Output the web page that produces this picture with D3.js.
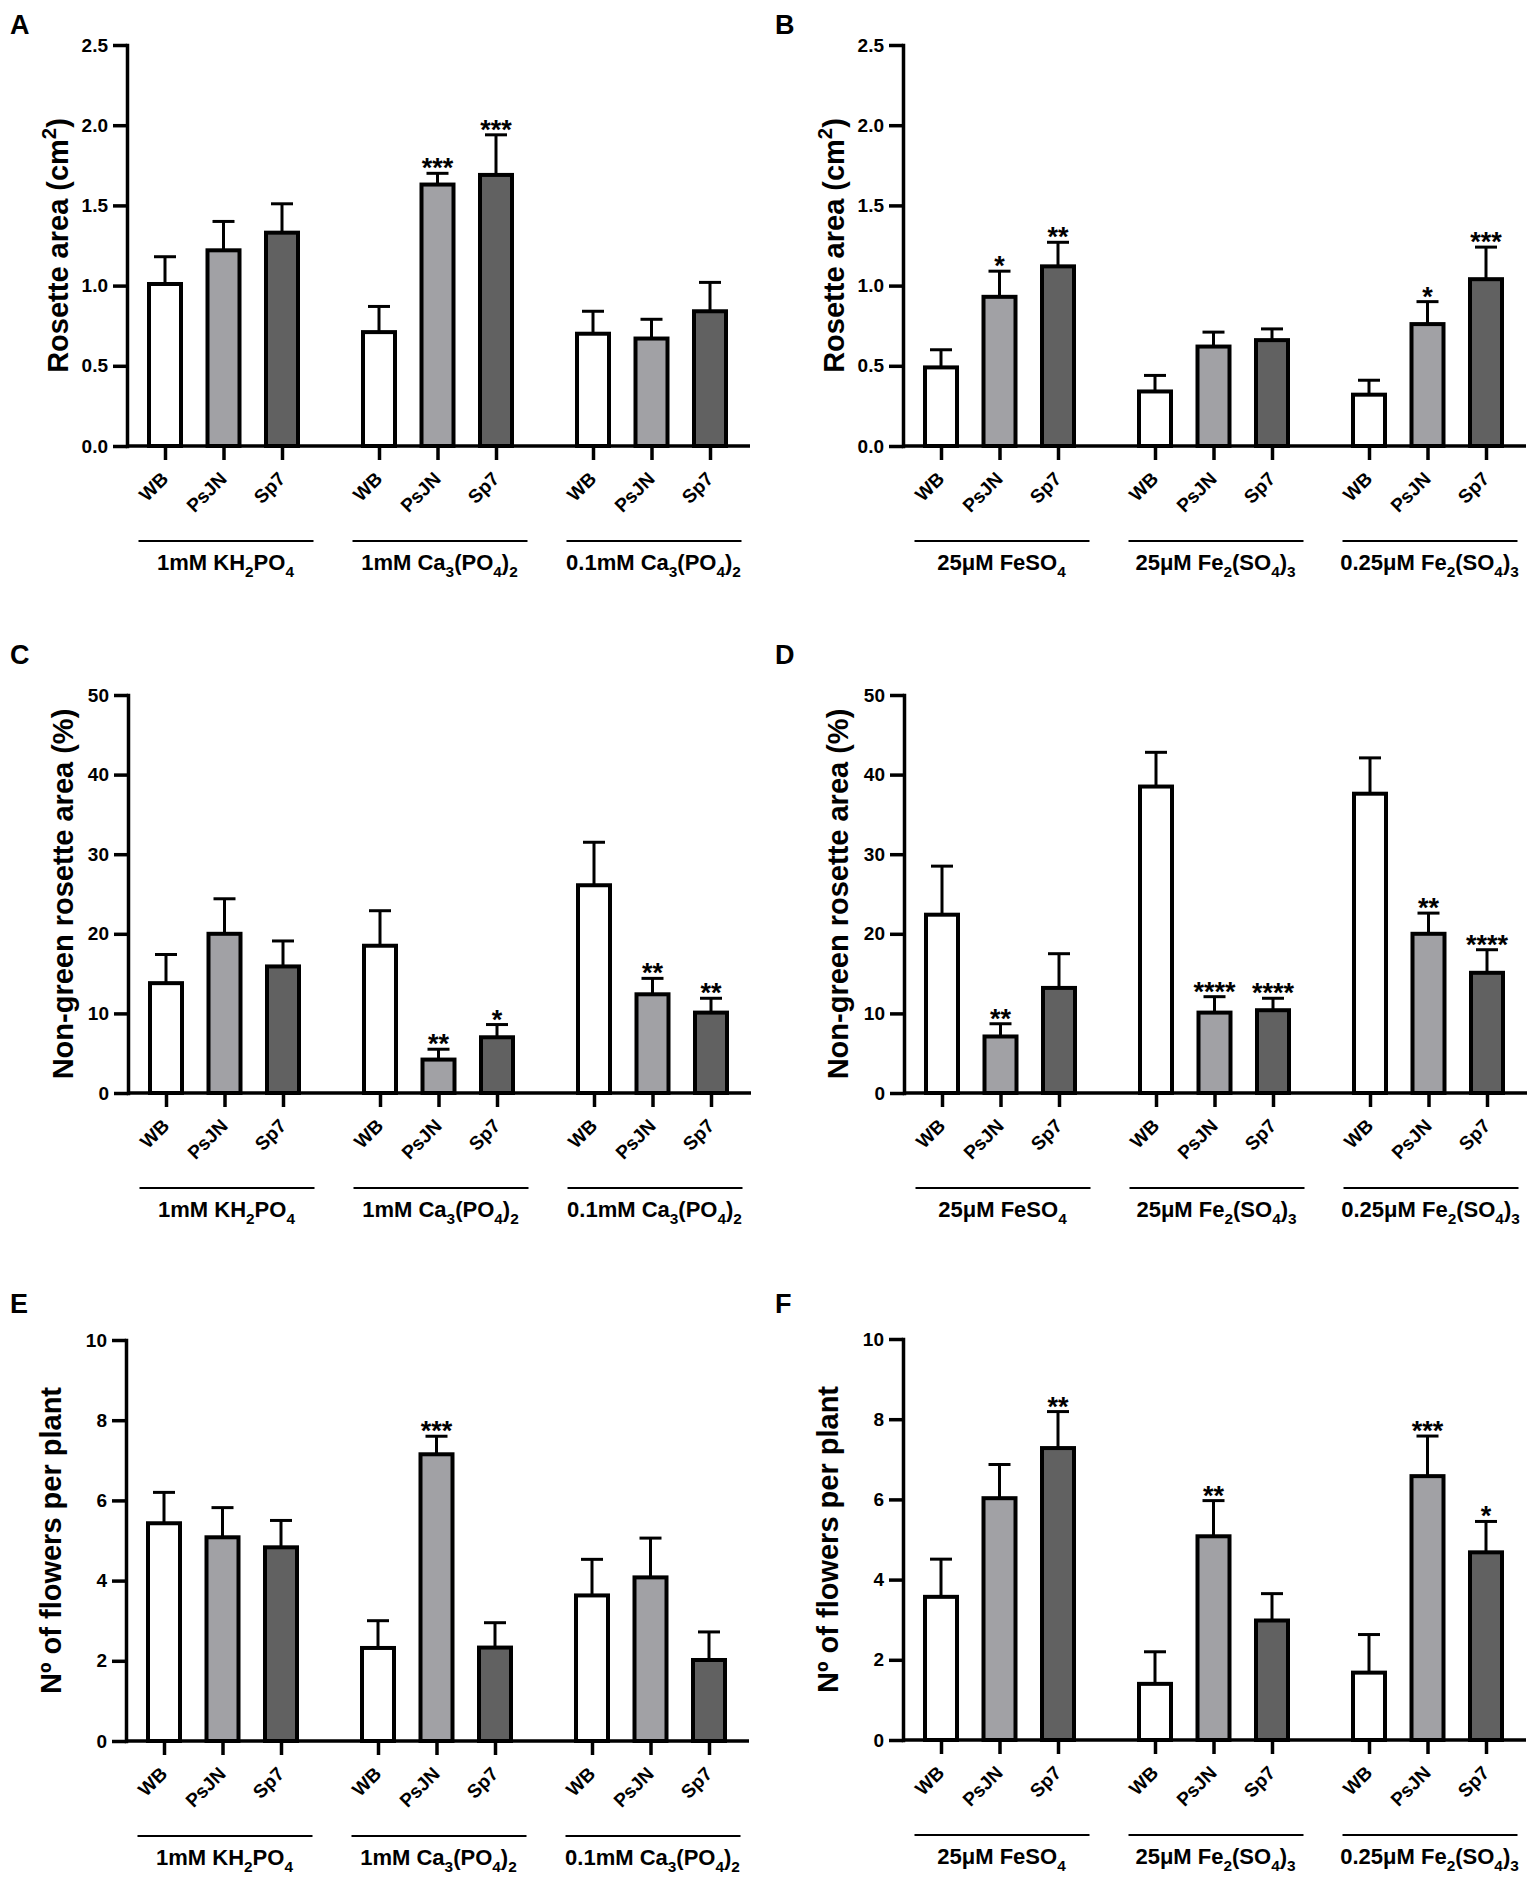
<!DOCTYPE html>
<html lang="en">
<head>
<meta charset="utf-8">
<title>Rosette area, non-green area and flowers</title>
<style>
  body { margin: 0; background: #fff; }
  svg text { font-family: "Liberation Sans", Arial, Helvetica, sans-serif; font-weight: bold; fill: #000; }
</style>
</head>
<body>
<div id="chart"></div>
<script src="https://d3js.org/d3.v7.min.js"></script>
<script>
// categories
var strains = ["WB", "PsJN", "Sp7"];
var phosphateGroups = ["1mM KH_2PO_4", "1mM Ca_3(PO_4)_2", "0.1mM Ca_3(PO_4)_2"];
var ironGroups = ["25μM FeSO_4", "25μM Fe_2(SO_4)_3", "0.25μM Fe_2(SO_4)_3"];

// y tick labels
var areaTicks = [0, 0.5, 1, 1.5, 2, 2.5];
var percentTicks = [0, 10, 20, 30, 40, 50];
var flowerTicks = [0, 2, 4, 6, 8, 10];

// A - rosette area, phosphate
var areaPhosMean = [1.01, 1.22, 1.33, 0.71, 1.63, 1.69, 0.70, 0.67, 0.84];
var areaPhosErr = [0.17, 0.18, 0.18, 0.16, 0.07, 0.25, 0.14, 0.12, 0.18];
var areaPhosStars = ["", "", "", "", "***", "***", "", "", ""];

// B - rosette area, iron
var areaIronMean = [0.49, 0.93, 1.12, 0.34, 0.62, 0.66, 0.32, 0.76, 1.04];
var areaIronErr = [0.11, 0.16, 0.15, 0.10, 0.09, 0.07, 0.09, 0.14, 0.20];
var areaIronStars = ["", "*", "**", "", "", "", "", "*", "***"];

// C - non-green area, phosphate
var nonGreenPhosMean = [13.8, 20.0, 15.9, 18.5, 4.2, 7.0, 26.1, 12.4, 10.1];
var nonGreenPhosErr = [3.6, 4.4, 3.2, 4.4, 1.3, 1.6, 5.4, 2.0, 1.8];
var nonGreenPhosStars = ["", "", "", "", "**", "*", "", "**", "**"];

// D - non-green area, iron
var nonGreenIronMean = [22.4, 7.1, 13.2, 38.5, 10.1, 10.4, 37.6, 20.0, 15.1];
var nonGreenIronErr = [6.1, 1.6, 4.3, 4.3, 2.0, 1.5, 4.5, 2.6, 2.9];
var nonGreenIronStars = ["", "**", "", "", "****", "****", "", "**", "****"];

// E - flowers, phosphate
var flowersPhosMean = [5.43, 5.08, 4.83, 2.32, 7.15, 2.33, 3.63, 4.08, 2.02];
var flowersPhosErr = [0.77, 0.74, 0.67, 0.68, 0.45, 0.62, 0.90, 0.98, 0.70];
var flowersPhosStars = ["", "", "", "", "***", "", "", "", ""];

// F - flowers, iron
var flowersIronMean = [3.57, 6.03, 7.28, 1.40, 5.08, 2.98, 1.68, 6.58, 4.68];
var flowersIronErr = [0.94, 0.84, 0.91, 0.80, 0.89, 0.67, 0.95, 1.00, 0.77];
var flowersIronStars = ["", "", "**", "", "**", "", "", "***", "*"];

var fills = { "WB": "#ffffff", "PsJN": "#a1a1a5", "Sp7": "#616161" };

var panels = [
    { letter: "A", x0: 127, top: 45, bottom: 446, letterY: 34, ticks: areaTicks, fmt: ".1f", titleX: -59,
      title: "Rosette area (cm^2)", groups: phosphateGroups, mean: areaPhosMean, err: areaPhosErr, stars: areaPhosStars },
    { letter: "B", x0: 903, top: 45, bottom: 446, letterY: 34, ticks: areaTicks, fmt: ".1f", titleX: -59,
      title: "Rosette area (cm^2)", groups: ironGroups, mean: areaIronMean, err: areaIronErr, stars: areaIronStars },
    { letter: "C", x0: 128, top: 695, bottom: 1093, letterY: 664, ticks: percentTicks, fmt: "d", titleX: -55,
      title: "Non-green rosette area (%)", groups: phosphateGroups, mean: nonGreenPhosMean, err: nonGreenPhosErr, stars: nonGreenPhosStars },
    { letter: "D", x0: 904, top: 695, bottom: 1093, letterY: 664, ticks: percentTicks, fmt: "d", titleX: -56,
      title: "Non-green rosette area (%)", groups: ironGroups, mean: nonGreenIronMean, err: nonGreenIronErr, stars: nonGreenIronStars },
    { letter: "E", x0: 126, top: 1340, bottom: 1741, letterY: 1313, ticks: flowerTicks, fmt: "d", titleX: -65,
      title: "Nº of flowers per plant", groups: phosphateGroups, mean: flowersPhosMean, err: flowersPhosErr, stars: flowersPhosStars },
    { letter: "F", x0: 903, top: 1339, bottom: 1740, letterY: 1313, ticks: flowerTicks, fmt: "d", titleX: -65,
      title: "Nº of flowers per plant", groups: ironGroups, mean: flowersIronMean, err: flowersIronErr, stars: flowersIronStars }
];

var svg = d3.select("#chart").append("svg")
    .attr("width", 1535)
    .attr("height", 1879);

svg.append("rect").attr("width", 1535).attr("height", 1879).attr("fill", "#fff");

// text with _n subscripts and ^n superscripts
function richText(t, str, size) {
    var parts = str.split(/([_^])(\d)/);
    var shift = 0;
    for (var i = 0; i < parts.length; i += 3) {
        if (parts[i]) {
            t.append("tspan").attr("dy", -shift).text(parts[i]);
            shift = 0;
        }
        if (i + 2 < parts.length) {
            var s = parts[i + 1] === "_" ? size * 0.3 : -size * 0.4;
            t.append("tspan").attr("dy", s - shift).attr("font-size", size * 0.7).text(parts[i + 2]);
            shift = s;
        }
    }
}

panels.forEach(function(p) {
    var g = svg.append("g");
    var rows = [];
    p.groups.forEach(function(grp, gi) {
        strains.forEach(function(s, si) {
            var k = gi * 3 + si;
            rows.push({ g: gi, s: s, key: gi + "|" + s, v: p.mean[k], e: p.err[k], star: p.stars[k] });
        });
    });

    var y = d3.scaleLinear()
        .domain([0, p.ticks[p.ticks.length - 1]])
        .range([p.bottom, p.top]);

    var groupX = d3.scalePoint()
        .domain(d3.range(p.groups.length))
        .range([p.x0 + 96.5, p.x0 + 96.5 + 428]);
    var strainX = d3.scalePoint()
        .domain(strains)
        .range([-58.5, 58.5]);
    var x = d3.scaleOrdinal()
        .domain(rows.map(function(d) { return d.key; }))
        .range(rows.map(function(d) { return groupX(d.g) + strainX(d.s); }));

    var xEnd = p.x0 + 623;

    // bars
    g.selectAll("rect.bar")
        .data(rows)
        .enter()
        .append("rect")
            .attr("class", "bar")
            .attr("x", function(d) { return x(d.key) - 16; })
            .attr("y", function(d) { return y(d.v); })
            .attr("width", 32)
            .attr("height", function(d) { return y(0) - y(d.v); })
            .attr("fill", function(d) { return fills[d.s]; })
            .attr("stroke", "#000")
            .attr("stroke-width", 4);

    // error bars (upper only)
    g.selectAll("line.err")
        .data(rows)
        .enter()
        .append("line")
            .attr("class", "err")
            .attr("x1", function(d) { return x(d.key); })
            .attr("x2", function(d) { return x(d.key); })
            .attr("y1", function(d) { return y(d.v); })
            .attr("y2", function(d) { return y(d.v + d.e); })
            .attr("stroke", "#000")
            .attr("stroke-width", 3);

    g.selectAll("line.cap")
        .data(rows)
        .enter()
        .append("line")
            .attr("class", "cap")
            .attr("x1", function(d) { return x(d.key) - 11; })
            .attr("x2", function(d) { return x(d.key) + 11; })
            .attr("y1", function(d) { return y(d.v + d.e); })
            .attr("y2", function(d) { return y(d.v + d.e); })
            .attr("stroke", "#000")
            .attr("stroke-width", 3);

    // significance stars
    g.selectAll("text.star")
        .data(rows.filter(function(d) { return d.star; }))
        .enter()
        .append("text")
            .attr("class", "star")
            .attr("x", function(d) { return x(d.key); })
            .attr("y", function(d) { return y(d.v + d.e) + 4; })
            .attr("text-anchor", "middle")
            .attr("font-size", 27)
            .text(function(d) { return d.star; });

    // y axis
    var yAxis = g.append("g")
        .attr("transform", "translate(" + p.x0 + ",0)")
        .call(d3.axisLeft(y)
            .tickValues(p.ticks)
            .tickSize(14)
            .tickSizeOuter(0)
            .tickPadding(5)
            .tickFormat(d3.format(p.fmt)));
    yAxis.select(".domain").attr("stroke-width", 3.5).attr("stroke-linecap", "square");
    yAxis.selectAll(".tick line").attr("stroke-width", 3.5);
    yAxis.selectAll(".tick text")
        .attr("font-size", 19)
        .attr("font-family", "'Liberation Sans', Arial, sans-serif")
        .attr("font-weight", "bold");

    // x axis
    g.append("line")
        .attr("x1", p.x0)
        .attr("x2", xEnd)
        .attr("y1", p.bottom)
        .attr("y2", p.bottom)
        .attr("stroke", "#000")
        .attr("stroke-width", 3.5);

    var xAxis = g.append("g")
        .attr("transform", "translate(0," + p.bottom + ")")
        .call(d3.axisBottom(x)
            .tickSize(14)
            .tickSizeOuter(0)
            .tickFormat(function(k) { return k.split("|")[1]; }));
    xAxis.select(".domain").remove();
    xAxis.selectAll(".tick line").attr("stroke-width", 3.5);
    xAxis.selectAll(".tick text")
        .attr("x", 0)
        .attr("y", 0)
        .attr("dy", 0)
        .attr("transform", "translate(4,34) rotate(-45)")
        .attr("text-anchor", "end")
        .attr("font-size", 19)
        .attr("font-family", "'Liberation Sans', Arial, sans-serif")
        .attr("font-weight", "bold");

    // group lines and labels
    p.groups.forEach(function(grp, gi) {
        var cx = groupX(gi);
        g.append("line")
            .attr("x1", cx - 85)
            .attr("x2", cx + 90)
            .attr("y1", p.bottom + 95)
            .attr("y2", p.bottom + 95)
            .attr("stroke", "#000")
            .attr("stroke-width", 1.8);
        var t = g.append("text")
            .attr("x", cx + 2)
            .attr("y", p.bottom + 124)
            .attr("text-anchor", "middle")
            .attr("font-size", 22);
        richText(t, grp, 22);
    });

    // y title
    var ty = (p.top + p.bottom) / 2;
    var title = g.append("text")
        .attr("transform", "translate(" + (p.x0 + p.titleX) + "," + ty + ") rotate(-90)")
        .attr("text-anchor", "middle")
        .attr("font-size", 29);
    richText(title, p.title, 29);

    // panel letter
    g.append("text")
        .attr("x", p.x0 < 500 ? 10 : 775)
        .attr("y", p.letterY)
        .attr("font-size", 27)
        .text(p.letter);
});
</script>
</body>
</html>
